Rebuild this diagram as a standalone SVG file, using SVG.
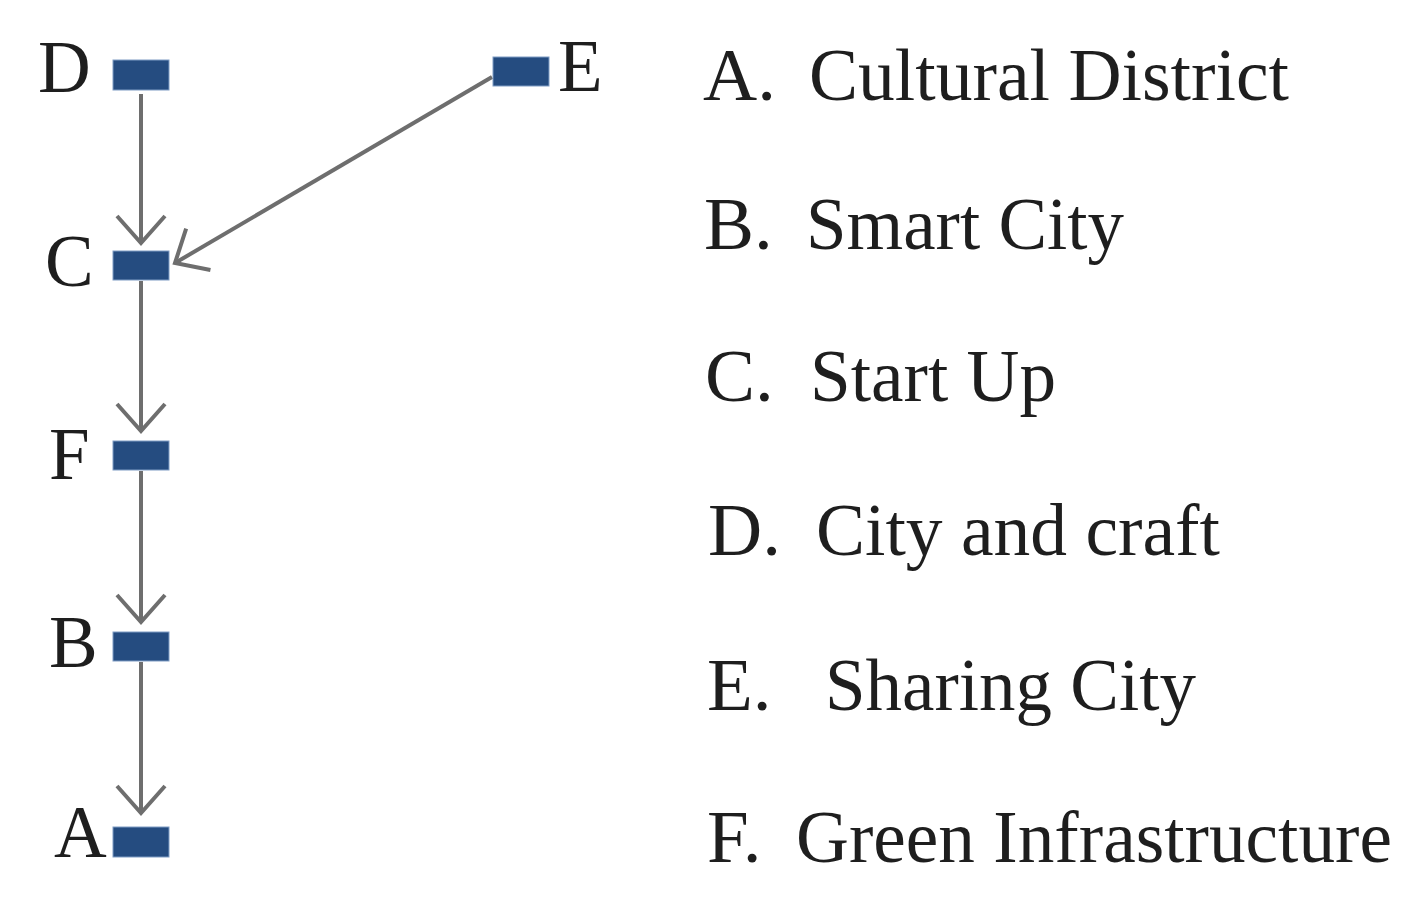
<svg xmlns="http://www.w3.org/2000/svg" width="1416" height="906" viewBox="0 0 1416 906">
<defs>
<style>
.node rect{fill:#254c80;stroke:#7f9cc4;stroke-width:1}
.lbl{font-family:"Liberation Serif","Times New Roman",serif;font-size:73px;fill:#1e1e1e}
.leg{font-family:"Liberation Serif","Times New Roman",serif;font-size:75px;fill:#1e1e1e}
.edge{stroke:#6e6e6e;stroke-width:4;fill:none}
</style>
<marker id="arr" markerUnits="userSpaceOnUse" markerWidth="60" markerHeight="60" refX="0" refY="0" viewBox="-32 -30 36 60" orient="auto" overflow="visible">
<path d="M-27,-24 L0,0 L-27,24" fill="none" stroke="#6e6e6e" stroke-width="4" stroke-linejoin="miter"/>
</marker>
</defs>
<rect width="1416" height="906" fill="#ffffff"/>
<g id="connectors">
<line class="edge" x1="141" y1="94" x2="141" y2="243" marker-end="url(#arr)"/>
<line class="edge" x1="492" y1="77" x2="175" y2="263" marker-end="url(#arr)"/>
<line class="edge" x1="141" y1="281" x2="141" y2="431" marker-end="url(#arr)"/>
<line class="edge" x1="141" y1="471" x2="141" y2="622" marker-end="url(#arr)"/>
<line class="edge" x1="141" y1="662" x2="141" y2="813" marker-end="url(#arr)"/>
</g>
<g id="node-D" class="node"><rect x="113" y="60" width="56" height="30"/><text class="lbl" x="38" y="92">D</text></g>
<g id="node-E" class="node"><rect x="493" y="57" width="56" height="29"/><text class="lbl" x="558" y="91">E</text></g>
<g id="node-C" class="node"><rect x="113" y="251" width="56" height="29"/><text class="lbl" x="45" y="286">C</text></g>
<g id="node-F" class="node"><rect x="113" y="441" width="56" height="29"/><text class="lbl" x="49" y="479">F</text></g>
<g id="node-B" class="node"><rect x="113" y="632" width="56" height="29"/><text class="lbl" x="49" y="667">B</text></g>
<g id="node-A" class="node"><rect x="113" y="827" width="56" height="30"/><text class="lbl" x="54" y="857">A</text></g>
<g id="legend">
<text class="leg" y="100"><tspan x="703">A.</tspan><tspan x="809" textLength="480" lengthAdjust="spacingAndGlyphs">Cultural District</tspan></text>
<text class="leg" y="249"><tspan x="704">B.</tspan><tspan x="806" textLength="318" lengthAdjust="spacingAndGlyphs">Smart City</tspan></text>
<text class="leg" y="401"><tspan x="705">C.</tspan><tspan x="810" textLength="246" lengthAdjust="spacingAndGlyphs">Start Up</tspan></text>
<text class="leg" y="555"><tspan x="708">D.</tspan><tspan x="816" textLength="404" lengthAdjust="spacingAndGlyphs">City and craft</tspan></text>
<text class="leg" y="710"><tspan x="707">E.</tspan><tspan x="825" textLength="371" lengthAdjust="spacingAndGlyphs">Sharing City</tspan></text>
<text class="leg" y="862"><tspan x="707">F.</tspan><tspan x="796" textLength="596" lengthAdjust="spacingAndGlyphs">Green Infrastructure</tspan></text>
</g>
</svg>
